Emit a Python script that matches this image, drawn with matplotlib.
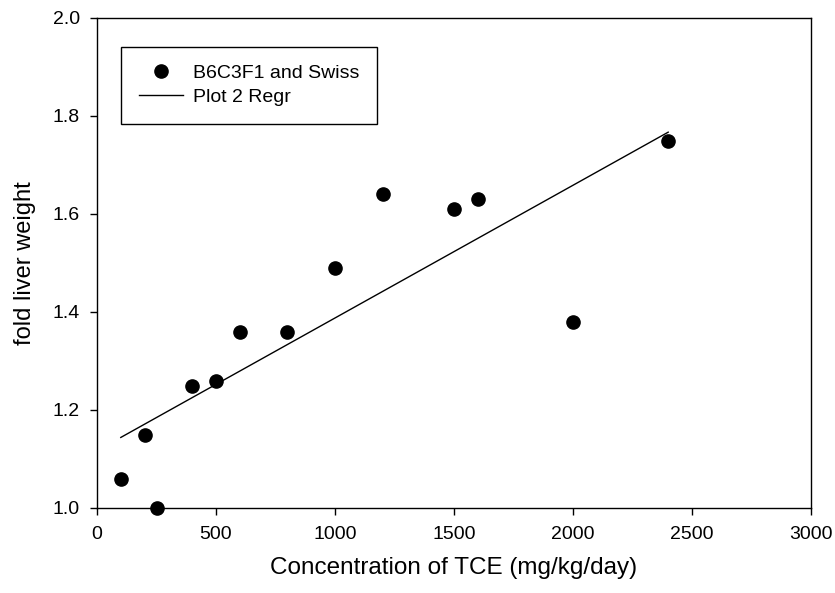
import numpy as np
import matplotlib.pyplot as plt

plt.rcParams['font.family'] = ['Liberation Sans', 'DejaVu Sans']

# data
dose = [100, 200, 250, 400, 500, 600, 800, 1000, 1200, 1500, 1600, 2000, 2400]
fold_liver = [1.06, 1.15, 1.00, 1.25, 1.26, 1.36, 1.36, 1.49, 1.64, 1.61, 1.63, 1.38, 1.75]

# regression line end points
regr_x = [100, 2400]
regr_y = [1.144, 1.767]

x_ticks = [0, 500, 1000, 1500, 2000, 2500, 3000]
y_ticks = [1.0, 1.2, 1.4, 1.6, 1.8, 2.0]

fig = plt.figure(figsize=(8.35, 5.93), dpi=100)
ax = fig.add_axes([97 / 835, 1 - 508 / 593, 714 / 835, 490 / 593])

ax.plot(dose, fold_liver, 'o', color='black', ms=9.5, clip_on=False,
        zorder=3, label='B6C3F1 and Swiss')
ax.plot(regr_x, regr_y, '-', color='black', lw=1, label='Plot 2 Regr')

ax.set_xlim(0, 3000)
ax.set_ylim(1.0, 2.0)
ax.set_xticks(x_ticks)
ax.set_yticks(y_ticks)
ax.set_yticklabels([f'{v:.1f}' for v in y_ticks])
ax.tick_params(direction='out', length=5, width=1, labelsize=14)
ax.tick_params(axis='x', pad=8)
ax.tick_params(axis='y', pad=7.5)
for s in ax.spines.values():
    s.set_linewidth(1)

ax.set_xlabel('Concentration of TCE (mg/kg/day)', fontsize=17.5, labelpad=10)
ax.set_ylabel('fold liver weight', fontsize=17, labelpad=12)

leg = ax.legend(loc='upper left', bbox_to_anchor=(121 / 835, 1 - 47 / 593),
                bbox_transform=fig.transFigure, fontsize=14, frameon=True,
                fancybox=False, edgecolor='black', framealpha=1,
                handlelength=2.3, handletextpad=0.5, borderpad=0.9,
                borderaxespad=0, labelspacing=0.33)
leg.get_frame().set_linewidth(1)

plt.savefig('out.png', dpi=100)
